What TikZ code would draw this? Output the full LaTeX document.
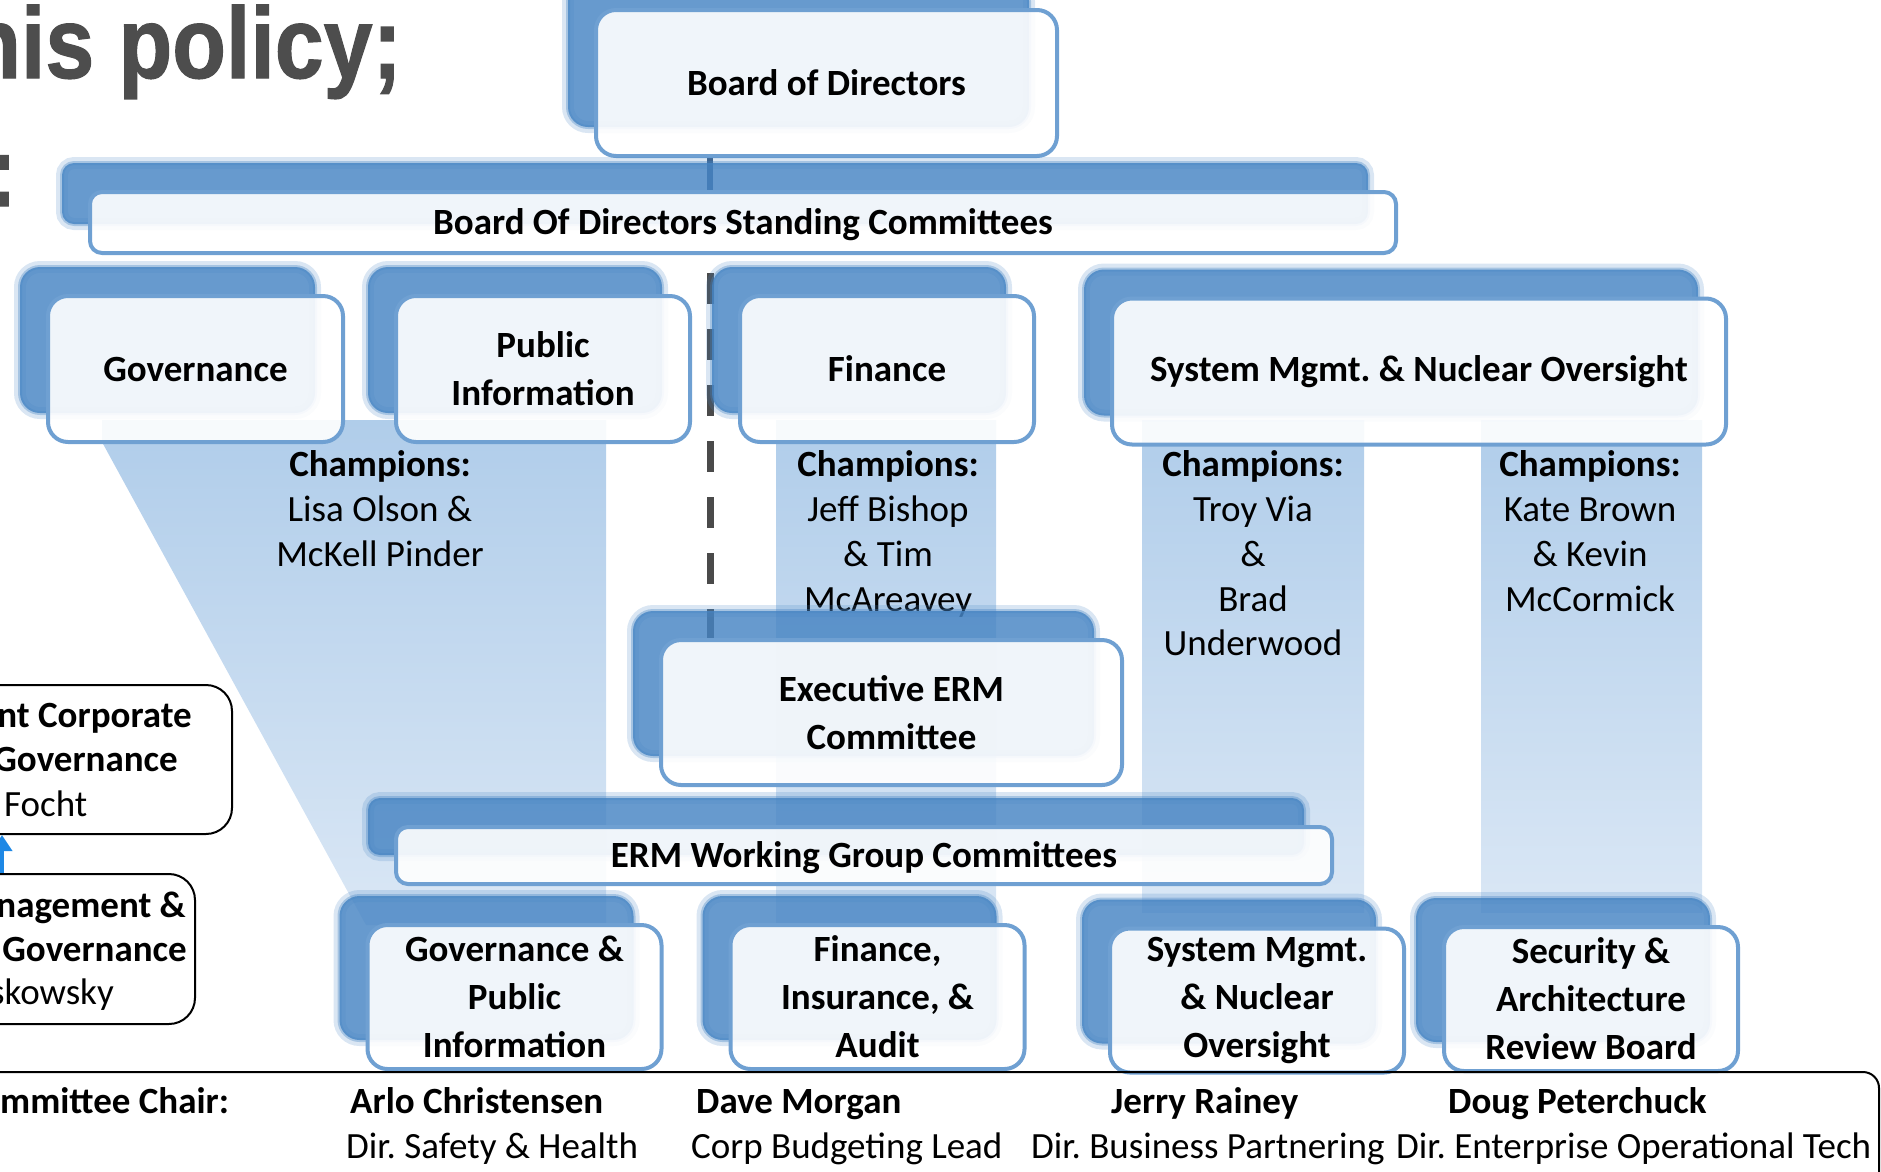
\documentclass[tikz,border=0pt]{standalone}
\usepackage{fontspec}
\setmainfont{Carlito}
\newfontfamily\headfont{Liberation Sans}[BoldFeatures={FakeBold=1.2}]
\usetikzlibrary{shadows,arrows.meta}
\frenchspacing

\pgfdeclarelayer{bands}
\pgfdeclarelayer{links}
\pgfsetlayers{bands,links,main}

\definecolor{shadowBlue}{RGB}{70,132,195}
\definecolor{edgeBlue}{RGB}{111,160,210}
\definecolor{bandTop}{RGB}{176,205,234}
\definecolor{bandBottom}{RGB}{218,231,245}
\definecolor{spineGray}{RGB}{74,74,74}
\definecolor{spineBlue}{RGB}{60,95,135}
\definecolor{titleGray}{RGB}{77,77,77}
\definecolor{arrowBlue}{RGB}{30,136,229}

\begin{document}
\begin{tikzpicture}
[x=1pt,y=-1pt,
  orgBox/.style={shape=rectangle,rounded corners=20pt,draw=edgeBlue,line width=4pt,
    fill=white,fill opacity=0.9,text opacity=1,align=center,inner sep=2pt,
    font=\fontsize{37}{48}\selectfont\bfseries,
    general shadow={draw=shadowBlue,draw opacity=0.2,line width=12pt,
      shadow xshift=-28pt,shadow yshift=29pt},
    general shadow={fill=shadowBlue,fill opacity=0.82,draw=shadowBlue,draw opacity=0.35,
      line width=4pt,shadow xshift=-28pt,shadow yshift=29pt}},
  barBox/.style={orgBox,rounded corners=12pt,text height=26pt,text depth=2pt},
  champText/.style={anchor=north,inner sep=0pt,align=center,font=\fontsize{37}{44.8}\selectfont},
  chairText/.style={anchor=base west,inner sep=0pt,font=\fontsize{37}{44}\selectfont},
  leftBox/.style={shape=rectangle,draw=black,line width=2pt,rounded corners=26pt,fill=white},
  sideText/.style={inner sep=0pt,font=\fontsize{37}{44}\selectfont},
  spineSolid/.style={draw=spineBlue,line width=6pt},
  spineDash/.style={draw=spineGray,line width=7pt,dash pattern=on 31pt off 25pt,dash phase=38pt}]
\useasboundingbox (0,0) rectangle (1881,1171);

%% slide title, cut at the frame
\node (title) [anchor=base east,inner sep=0pt,xscale=0.87,text=titleGray,
  font=\headfont\bfseries\fontsize{101}{101}\selectfont] at (402,78) {his policy;};
\node (colonmark) [anchor=base east,inner sep=0pt,text=titleGray,
  font=\headfont\bfseries\fontsize{100}{100}\selectfont] at (18,206) {:};

%% board level
\node (bod) at (826.5,83) [orgBox,minimum width=461pt,minimum height=146pt] {Board of Directors};
\node (standing) at (743,222.5) [barBox,minimum width=1306pt,minimum height=61pt]
  {Board Of Directors Standing Committees};
\coordinate (spine) at (710,0);

%% standing committees
\foreach \nodename/\x/\y/\w/\txt in {gov/195.5/369/295/{Governance},
  pubinfo/543/369/294/{Public\\Information}, finance/887/369/294/{Finance},
  sysmgmt/1419/371.5/614/{System Mgmt. \& Nuclear Oversight}}
{
  \node (\nodename) at (\x,\y) [orgBox,minimum width=\w pt,minimum height=146pt] {\txt};
}

%% champions
\foreach \nodename/\x/\txt in {champgov/380/{\textbf{Champions:}\\Lisa Olson \&\\McKell Pinder},
  champfin/888/{\textbf{Champions:}\\Jeff Bishop\\\& Tim\\McAreavey},
  champsys/1253/{\textbf{Champions:}\\Troy Via\\\&\\Brad\\Underwood},
  champsec/1590/{\textbf{Champions:}\\Kate Brown\\\& Kevin\\McCormick}}
{
  \node (\nodename) at (\x,450.5) [champText] {\txt};
}

%% management level
\node (execerm) at (891.5,712.5) [orgBox,minimum width=461pt,minimum height=145pt]
  {Executive ERM\\Committee};
\node (ermwg) at (864,855.5) [barBox,minimum width=936pt,minimum height=57pt]
  {ERM Working Group Committees};
\foreach \nodename/\x/\y/\txt in {wggov/514.5/997/{Governance \&\\Public\\Information},
  wgfin/877.5/997/{Finance,\\Insurance, \&\\Audit},
  wgsys/1257/1000.5/{System Mgmt.\\\& Nuclear\\Oversight},
  wgsec/1591/999/{Security \&\\Architecture\\Review Board}}
{
  \node (\nodename) at (\x,\y) [orgBox,minimum width=294pt,minimum height=144pt] {\txt};
}

%% chair panel
\node (chairpanel) at (919.5,1196) [shape=rectangle,draw=black,line width=2pt,rounded corners=16pt,
  minimum width=1919pt,minimum height=248pt] {};
\node (chairlabel) at (0,1113) [chairText,font=\fontsize{37}{44}\selectfont\bfseries] {mmittee Chair:};
\foreach \nodename/\x/\txt in {arlo/350/{Arlo Christensen}, dave/696/{Dave Morgan},
  jerry/1111/{Jerry Rainey}, doug/1448/{Doug Peterchuck}}
{
  \node (\nodename) at (\x,1113) [chairText,font=\fontsize{37}{44}\selectfont\bfseries] {\txt};
}
\foreach \nodename/\x/\txt in {arlorole/346/{Dir. Safety \& Health}, daverole/691/{Corp Budgeting Lead},
  jerryrole/1031/{Dir. Business Partnering}, dougrole/1396/{Dir. Enterprise Operational Tech}}
{
  \node (\nodename) at (\x,1158) [chairText] {\txt};
}

%% side boxes, cut at the frame
\node (leftupper) at (91,759.5) [leftBox,minimum width=282pt,minimum height=149pt] {};
\node (leftlower) at (72.5,949) [leftBox,minimum width=245pt,minimum height=150pt] {};
\node (upperone) at (192,727) [sideText,anchor=base east,font=\fontsize{37}{44}\selectfont\bfseries] {nt Corporate};
\node (uppertwo) at (178,771) [sideText,anchor=base east,font=\fontsize{37}{44}\selectfont\bfseries] {Governance};
\node (upperthree) at (4,816) [sideText,anchor=base west] {Focht};
\node (lowerone) at (186,917) [sideText,anchor=base east,font=\fontsize{37}{44}\selectfont\bfseries] {nagement \&};
\node (lowertwo) at (187,961) [sideText,anchor=base east,font=\fontsize{37}{44}\selectfont\bfseries] {Governance};
\node (lowerthree) at (114,1004.5) [sideText,anchor=base east] {skowsky};
\coordinate (sidearrow) at (2,0);
\draw[-{Triangle[width=20pt,length=16pt]},draw=arrowBlue,fill=arrowBlue,line width=4pt]
  (leftlower.north -| sidearrow) -- (leftupper.south -| sidearrow);

%% links
\begin{pgfonlayer}{links}
\draw[spineSolid] (bod.south -| spine) -- (standing.north -| spine);
\draw[spineDash] (standing.south -| spine) -- (execerm.north -| spine);
\end{pgfonlayer}

%% champion bands
\begin{pgfonlayer}{bands}
\shade[top color=bandTop,bottom color=bandBottom]
  (102,420) -- (606,420) -- (606,925) -- (366,925) -- (102,442) -- cycle;
\foreach \xa/\xb/\yb in {776/996/925, 1142/1364/912, 1481/1702/912}
{
  \shade[top color=bandTop,bottom color=bandBottom] (\xa,420) rectangle (\xb,\yb);
}
\end{pgfonlayer}
\end{tikzpicture}
\end{document}
